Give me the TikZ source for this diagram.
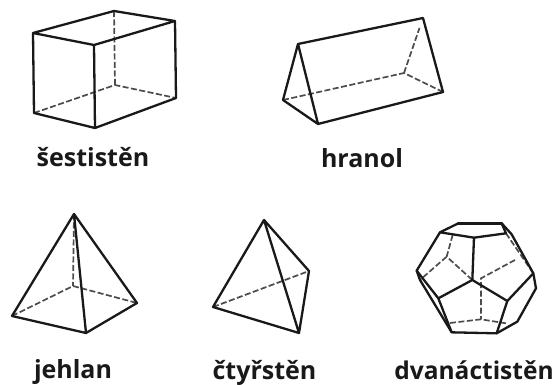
\documentclass[tikz,border=0pt]{standalone}
\usepackage{fontspec}
\setmainfont{Open Sans}
\tikzset{
  edge/.style={line width=2.3pt,line join=round,line cap=round,black!90},
  hid/.style={line width=1.7pt,black!70,dash pattern=on 6pt off 2.5pt},
  lab/.style={font=\bfseries\fontsize{25}{28}\selectfont,inner sep=0pt,anchor=base,black!90}
}
\begin{document}
\begin{tikzpicture}[x=1pt,y=-1pt]
\useasboundingbox (0,0) rectangle (560,385);
% box
\coordinate (a) at (33,33); \coordinate (b) at (94,45); \coordinate (c) at (175,21); \coordinate (d) at (114,11);
\coordinate (e) at (34,113); \coordinate (f) at (95,128); \coordinate (g) at (176,98); \coordinate (h) at (115,85);
\draw[hid] (d)--(h) (e)--(h)--(g);
\draw[edge] (a)--(b)--(c)--(d)--cycle (a)--(e)--(f)--(g)--(c) (b)--(f);
% prism
\coordinate (p1) at (298,44); \coordinate (p2) at (283,100); \coordinate (p3) at (318,124); \coordinate (p4) at (443,92); \coordinate (p5) at (404,73); \coordinate (p6) at (423,18); \coordinate (p7) at (419.5,28);
\draw[hid] (p2)--(p5)--(p4) (p5)--(p7);
\draw[edge] (p6)--(p1)--(p2)--(p3)--(p4)--cycle (p1)--(p3);
% pyramid
\coordinate (q1) at (74,214); \coordinate (q2) at (12,316); \coordinate (q3) at (86,333); \coordinate (q4) at (137,303); \coordinate (q5) at (73,286);
\draw[hid] (q1)--(q5) (q2)--(q5)--(q4);
\draw[edge] (q1)--(q2)--(q3)--(q4)--cycle (q1)--(q3);
% tetrahedron
\coordinate (t1) at (264,220); \coordinate (t2) at (213,307); \coordinate (t3) at (299,333); \coordinate (t4) at (309,271);
\draw[hid] (t2)--(t4);
\draw[edge] (t1)--(t2)--(t3)--(t4)--cycle (t1)--(t3);
% dodecahedron
\begin{scope}[shift={(400,205)},x=0.3333pt,y=-0.3333pt]
\coordinate (u1) at (175,55); \coordinate (u2) at (305,55); \coordinate (u3) at (335,88); \coordinate (u4) at (400,205);
\coordinate (u5) at (408,250); \coordinate (u6) at (352,350); \coordinate (u7) at (290,385); \coordinate (u8) at (155,382);
\coordinate (u9) at (60,225); \coordinate (u10) at (50,197); \coordinate (u11) at (120,82); \coordinate (u12) at (222,98);
\coordinate (u13) at (318,85); \coordinate (u14) at (217,225); \coordinate (u15) at (115,280); \coordinate (u16) at (322,288);
\coordinate (v1) at (158,90); \coordinate (v2) at (140,155); \coordinate (v3) at (345,165); \coordinate (v4) at (243,220);
\coordinate (v5) at (243,343); \coordinate (v6) at (150,354); \coordinate (v7) at (318,355);
\draw[hid] (v1)--(v2)--(u14) (v2)--(u9) (u13)--(u4) (v3)--(v4)--(v5) (v6)--(v5)--(v7);
\draw[edge] (u1)--(u2)--(u3)--(u4)--(u5)--(u6)--(u7)--(u8)--(u9)--(u10)--(u11)--cycle;
\draw[edge,line width=3.6pt] (u1)--(u2);
\draw[edge] (u11)--(u12)--(u13)--(u2) (u12)--(u14)--(u15)--(u10) (u14)--(u16)--(u4) (u15)--(u8) (u16)--(u7);
\end{scope}
% labels
\node[lab] (l1) at (93,166.5) {šestistěn};
\node[lab] (l2) at (362,168) {hranol};
\node[lab] (l3) at (73,378.5) {jehlan};
\node[lab] (l4) at (264.5,379) {čtyřstěn};
\node[lab,font=\bfseries\fontsize{24.5}{28}\selectfont] (l5) at (474,379.5) {dvanáctistěn};
\end{tikzpicture}
\end{document}
